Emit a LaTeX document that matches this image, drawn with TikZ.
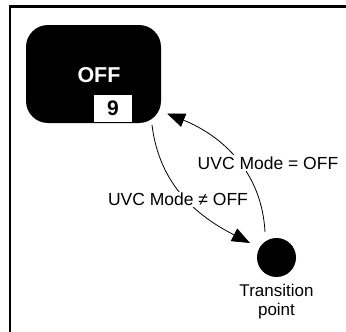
\documentclass[tikz,border=0pt]{standalone}
\usepackage{fontspec}
\setmainfont{Liberation Sans}
\usetikzlibrary{positioning, arrows.meta}

\begin{document}
\begin{tikzpicture}[x=1pt, y=1pt]
    \tikzstyle{stateblock} = [rectangle, fill=black, rounded corners=22pt, minimum width=135pt, minimum height=98pt, inner sep=0pt]
    \tikzstyle{numblock} = [rectangle, fill=white, minimum width=38pt, minimum height=27pt, inner sep=0pt, font=\fontsize{21}{23}\selectfont\bfseries]
    \tikzstyle{pointdot} = [circle, fill=black, minimum size=39pt, inner sep=0pt]
    \tikzstyle{condlabel} = [fill=white, inner sep=1.5pt, font=\fontsize{17.5}{20}\selectfont]
    \tikzstyle{arrow} = [line width=0.8pt, -{Triangle[length=18pt, width=14pt]}]

    \useasboundingbox (0,0) rectangle (346,-332);
    % frame
    \draw [line width=2.6pt] (10,-332) -- (10,-6.5) -- (346,-6.5);

    \node [stateblock] (off) at (93.5,-74) {};
    \node [text=white, font=\fontsize{21.5}{23}\selectfont\bfseries] (offtext) at (99,-75) {OFF};
    \node [numblock] (nine) at (113,-108.5) {9};

    \node [pointdot] (dot) at (276.5,-257.5) {};
    \node [below=3pt of dot, align=center, font=\fontsize{17}{19}\selectfont] (dotlabel) {Transition\\point};

    \coordinate (offout) at (152,-125);
    \coordinate (offin) at (167,-113.5);
    \coordinate (dotin) at (250,-243);
    \coordinate (dotout) at (265,-232);

    \draw [arrow] (offout) to[out=-83, in=153] (dotin);
    \draw [arrow] (dotout) to[out=93, in=-22] (offin);

    \node [condlabel] (neq) at (178,-199.5) {UVC Mode ≠ OFF};
    \node [condlabel] (eq) at (268,-163) {UVC Mode = OFF};
\end{tikzpicture}
\end{document}
